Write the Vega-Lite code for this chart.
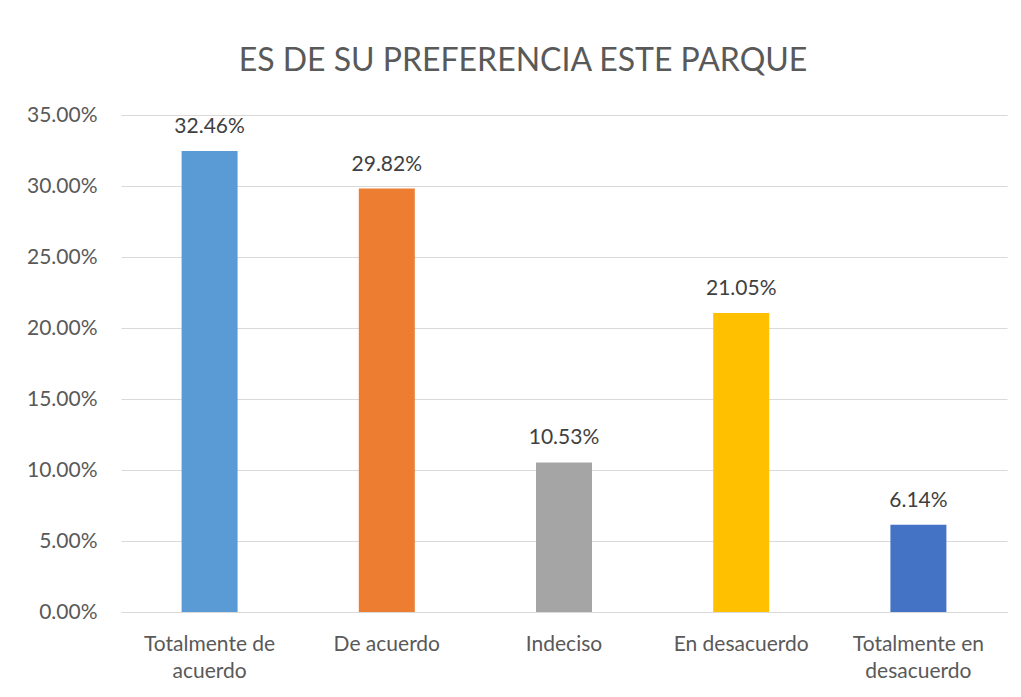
{
  "$schema": "https://vega.github.io/schema/vega-lite/v6.json",
  "autosize": {"type": "none"},
  "width": 886,
  "height": 497,
  "padding": {"left": 121, "top": 115, "right": 14, "bottom": 85},
  "background": "white",
  "config": {
    "font": "Lato",
    "view": {"stroke": null}
  },
  "title": {
    "text": "ES DE SU PREFERENCIA ESTE PARQUE",
    "font": "Lato",
    "fontSize": 32,
    "fontWeight": "normal",
    "color": "#595959",
    "anchor": "middle",
    "baseline": "alphabetic",
    "offset": 43,
    "dx": -41,
    "dy": 42
  },
  "data": {
    "values": [
      {"categoria": "Totalmente de acuerdo", "porcentaje": 0.3246},
      {"categoria": "De acuerdo", "porcentaje": 0.2982},
      {"categoria": "Indeciso", "porcentaje": 0.1053},
      {"categoria": "En desacuerdo", "porcentaje": 0.2105},
      {"categoria": "Totalmente en desacuerdo", "porcentaje": 0.0614}
    ]
  },
  "encoding": {
    "x": {
      "field": "categoria",
      "type": "nominal",
      "sort": null,
      "scale": {"paddingInner": 0.684, "paddingOuter": 0.342},
      "axis": {
        "title": null,
        "labelAngle": 0,
        "ticks": false,
        "domain": true,
        "domainColor": "#d9d9d9",
        "domainWidth": 1,
        "labelFont": "Lato",
        "labelFontSize": 21,
        "labelColor": "#595959",
        "labelPadding": 21,
        "labelLineHeight": 27,
        "labelBaseline": "top",
        "labelExpr": "datum.label == 'Totalmente de acuerdo' ? ['Totalmente de', 'acuerdo'] : datum.label == 'Totalmente en desacuerdo' ? ['Totalmente en', 'desacuerdo'] : datum.label"
      }
    },
    "y": {
      "field": "porcentaje",
      "type": "quantitative",
      "scale": {"domain": [0, 0.35], "nice": false},
      "axis": {
        "title": null,
        "format": ".2%",
        "values": [0, 0.05, 0.1, 0.15, 0.2, 0.25, 0.3, 0.35],
        "ticks": false,
        "domain": false,
        "grid": true,
        "gridColor": "#d9d9d9",
        "gridWidth": 1,
        "labelFont": "Lato",
        "labelFontSize": 21,
        "labelColor": "#595959",
        "labelPadding": 24
      }
    }
  },
  "layer": [
    {
      "mark": {"type": "bar"},
      "encoding": {
        "color": {
          "field": "categoria",
          "type": "nominal",
          "sort": null,
          "legend": null,
          "scale": {
            "domain": ["Totalmente de acuerdo", "De acuerdo", "Indeciso", "En desacuerdo", "Totalmente en desacuerdo"],
            "range": ["#5B9BD5", "#ED7D31", "#A5A5A5", "#FFC000", "#4472C4"]
          }
        }
      }
    },
    {
      "mark": {"type": "text", "baseline": "alphabetic", "dy": -18, "font": "Lato", "fontSize": 21, "color": "#404040"},
      "encoding": {
        "text": {"field": "porcentaje", "type": "quantitative", "format": ".2%"}
      }
    }
  ]
}
